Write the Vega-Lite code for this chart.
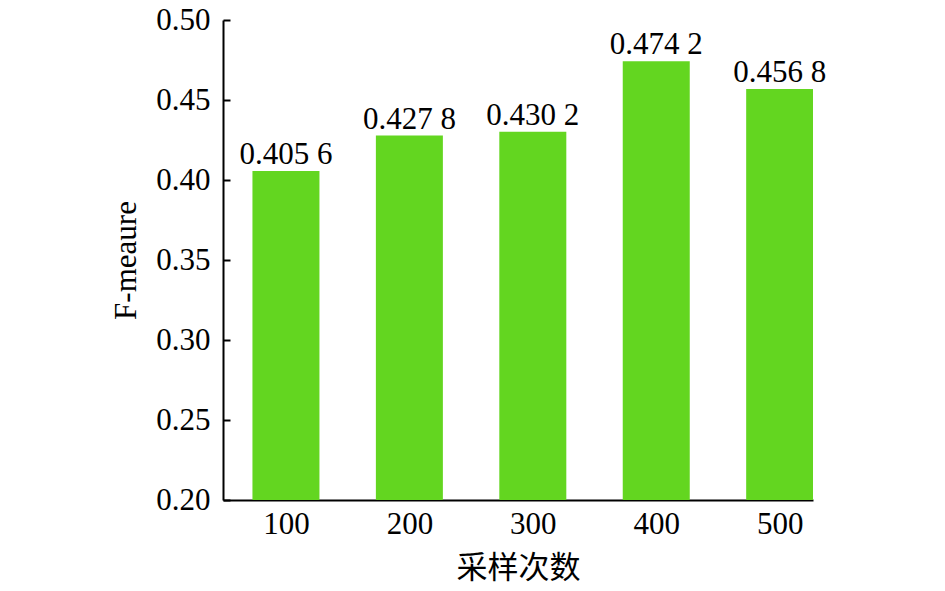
{
  "$schema": "https://vega.github.io/schema/vega-lite/v6.json",
  "width": 590,
  "height": 480,
  "autosize": {"type": "none"},
  "padding": {"left": 223, "top": 20, "right": 132, "bottom": 91},
  "background": "white",
  "config": {"view": {"stroke": null}, "font": "Times New Roman"},
  "data": {"values": [
    {"n": 100, "f": 0.4056, "label": "0.405 6"},
    {"n": 200, "f": 0.4278, "label": "0.427 8"},
    {"n": 300, "f": 0.4302, "label": "0.430 2"},
    {"n": 400, "f": 0.4742, "label": "0.474 2"},
    {"n": 500, "f": 0.4568, "label": "0.456 8"}
  ]},
  "encoding": {
    "x": {"field": "n", "type": "quantitative",
      "scale": {"domain": [49, 527], "nice": false, "zero": false, "padding": 0},
      "axis": {"values": [100, 200, 300, 400, 500], "grid": false, "title": "采样次数",
        "titleFont": "Noto Sans CJK SC", "titleFontWeight": "normal", "titleFontSize": 31, "titleColor": "black", "titlePadding": 14,
        "labelFont": "Times New Roman", "labelFontSize": 31, "labelColor": "black", "labelPadding": 16,
        "domainColor": "black", "domainWidth": 2, "tickColor": "black", "tickWidth": 2, "tickSize": -7}},
    "y": {"field": "f", "type": "quantitative",
      "scale": {"domain": [0.2, 0.5], "nice": false, "zero": false, "padding": 0},
      "axis": {"values": [0.2, 0.25, 0.3, 0.35, 0.4, 0.45, 0.5], "format": ".2f", "grid": false, "title": "F-meaure",
        "titleFont": "Times New Roman", "titleFontWeight": "normal", "titleFontSize": 31, "titleColor": "black", "titlePadding": 13,
        "labelFont": "Times New Roman", "labelFontSize": 31, "labelColor": "black", "labelPadding": 20,
        "domainColor": "black", "domainWidth": 2, "tickColor": "black", "tickWidth": 2, "tickSize": -7}}
  },
  "layer": [
    {"mark": {"type": "bar", "size": 67, "color": "#63D620", "clip": true}, "encoding": {"y2": {"datum": 0.2}}},
    {"mark": {"type": "text", "font": "Times New Roman", "fontSize": 31, "baseline": "alphabetic", "dy": -7, "color": "black"},
      "encoding": {"text": {"field": "label"}}}
  ]
}
